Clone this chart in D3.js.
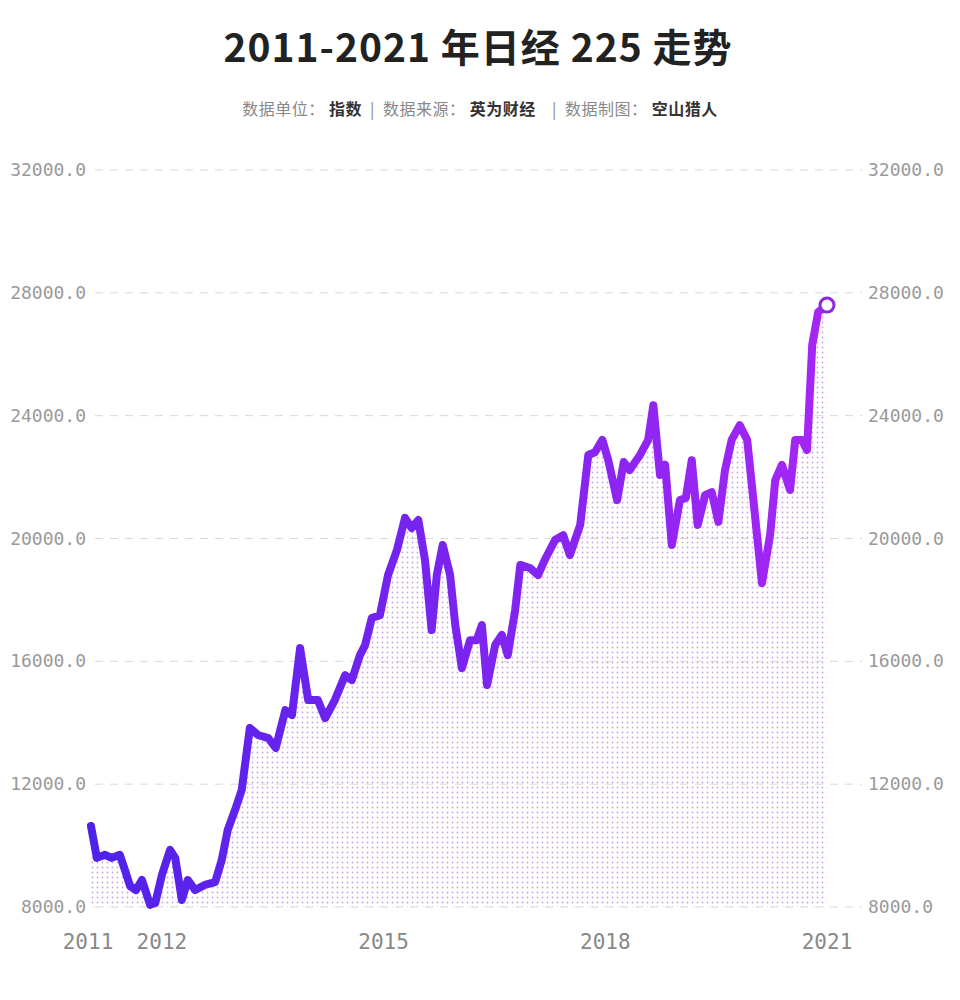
<!DOCTYPE html>
<html><head><meta charset="utf-8">
<script src="https://cdn.jsdelivr.net/npm/d3@7"></script>
<style>body{margin:0;background:#fff}svg{display:block}</style>
</head><body>
<svg id="chart" width="960" height="1000"></svg>
<script>
// Nikkei 225, 2011-2021 (fractional years, index level)
const years = [2011.04,2011.12,2011.23,2011.32,2011.43,2011.50,2011.57,2011.65,2011.73,2011.84,2011.91,
  2012.00,2012.11,2012.18,2012.27,2012.35,2012.45,2012.58,2012.72,2012.81,2012.89,2012.99,
  2013.08,2013.19,2013.30,2013.44,2013.54,2013.67,2013.76,2013.87,2013.98,
  2014.11,2014.21,2014.34,2014.48,2014.57,2014.68,2014.75,2014.84,2014.95,
  2015.06,2015.18,2015.29,2015.38,2015.47,2015.56,2015.65,2015.72,2015.80,2015.90,2015.97,
  2016.06,2016.17,2016.26,2016.33,2016.40,2016.51,2016.60,2016.68,2016.78,2016.85,2016.98,
  2017.09,2017.18,2017.32,2017.43,2017.52,2017.66,2017.77,2017.86,2017.96,
  2018.04,2018.16,2018.25,2018.33,2018.47,2018.58,2018.65,2018.74,2018.81,2018.90,
  2019.01,2019.09,2019.17,2019.25,2019.35,2019.44,2019.53,2019.62,2019.71,2019.82,2019.92,2019.99,
  2020.12,2020.23,2020.30,2020.39,2020.50,2020.57,2020.66,2020.73,2020.80,2020.88,2021.00];
const values = [10640,9600,9700,9600,9700,9200,8680,8550,8880,8070,8130,
  9040,9860,9600,8230,8880,8550,8720,8810,9530,10500,11160,
  11810,13830,13600,13500,13180,14410,14250,16430,14740,
  14740,14150,14740,15550,15390,16200,16530,17410,17500,
  18810,19620,20670,20340,20600,19300,17020,18810,19790,18810,17180,
  15780,16690,16690,17180,15230,16530,16860,16200,17670,19140,19040,
  18810,19300,19950,20110,19460,20440,22720,22810,23210,
  22550,21250,22490,22230,22720,23210,24340,22070,22400,19790,
  21250,21320,22550,20440,21410,21510,20540,22230,23210,23690,23210,21580,
  18550,20110,21900,22400,21580,23210,23210,22880,26300,27370,27600];
const yTicks = [8000,12000,16000,20000,24000,28000,32000];
const xTicks = [2011,2012,2015,2018,2021];

const svg = d3.select('#chart');
const x = d3.scaleLinear().domain([2011, 2021]).range([88, 827]);
const y = d3.scaleLinear().domain([8000, 32000]).range([907, 170]);
const data = years.map((t, i) => ({ t, v: values[i] }));

svg.append('text').attr('x', 478).attr('y', 62).attr('text-anchor', 'middle')
  .attr('font-family', 'Noto Sans CJK SC').attr('font-weight', 700).attr('font-size', 39)
  .attr('letter-spacing', 1).attr('fill', '#222').text('2011-2021 年日经 225 走势');

const sub = svg.append('text').attr('x', 480).attr('y', 115).attr('text-anchor', 'middle')
  .attr('font-family', 'Noto Sans CJK SC').attr('font-size', 16).attr('letter-spacing', 0.5).attr('fill', '#888');
[['数据单位：', 0], [' 指数', 1], ['  |  数据来源：', 0], [' 英为财经', 1], ['    |  数据制图：', 0], [' 空山猎人', 1]]
  .forEach(([s, b]) => sub.append('tspan').attr('font-weight', b ? 700 : 400)
    .attr('fill', b ? '#333' : '#888').attr('xml:space', 'preserve').text(s));

const defs = svg.append('defs');
const pat = defs.append('pattern').attr('id', 'dots').attr('patternUnits', 'userSpaceOnUse')
  .attr('width', 5).attr('height', 5);
pat.append('circle').attr('cx', 2.5).attr('cy', 2.5).attr('r', 0.9).attr('fill', '#c9a3e6');
const grad = defs.append('linearGradient').attr('id', 'lg').attr('gradientUnits', 'userSpaceOnUse')
  .attr('x1', 88).attr('x2', 827).attr('y1', 0).attr('y2', 0);
grad.append('stop').attr('offset', 0).attr('stop-color', '#4f22ea');
grad.append('stop').attr('offset', 1).attr('stop-color', '#a626f4');

// grid + labels on both sides
const g = svg.append('g').attr('font-family', 'DejaVu Sans Mono').attr('font-size', 18).attr('fill', '#999');
yTicks.forEach(v => {
  g.append('line').attr('x1', 95).attr('x2', 862).attr('y1', y(v)).attr('y2', y(v))
    .attr('stroke', '#d8d8d8').attr('stroke-dasharray', '8,7');
  g.append('text').attr('x', 86).attr('y', y(v) + 6).attr('text-anchor', 'end').text(v.toFixed(1));
  g.append('text').attr('x', 868).attr('y', y(v) + 6).text(v.toFixed(1));
});
xTicks.forEach(t => g.append('text').attr('x', x(t)).attr('y', 949).attr('text-anchor', 'middle')
  .attr('font-size', 21).attr('fill', '#888').text(t));

svg.append('path').datum(data).attr('fill', 'url(#dots)')
  .attr('d', d3.area().x(d => x(d.t)).y0(y(8000)).y1(d => y(d.v)));
svg.append('path').datum(data).attr('fill', 'none').attr('stroke', 'url(#lg)')
  .attr('stroke-width', 8).attr('stroke-linejoin', 'round').attr('stroke-linecap', 'round')
  .attr('d', d3.line().x(d => x(d.t)).y(d => y(d.v)));
const last = data[data.length - 1];
svg.append('circle').attr('cx', x(last.t)).attr('cy', y(last.v)).attr('r', 7)
  .attr('fill', '#fff').attr('stroke', '#8a2be2').attr('stroke-width', 3);
</script>
</body></html>
